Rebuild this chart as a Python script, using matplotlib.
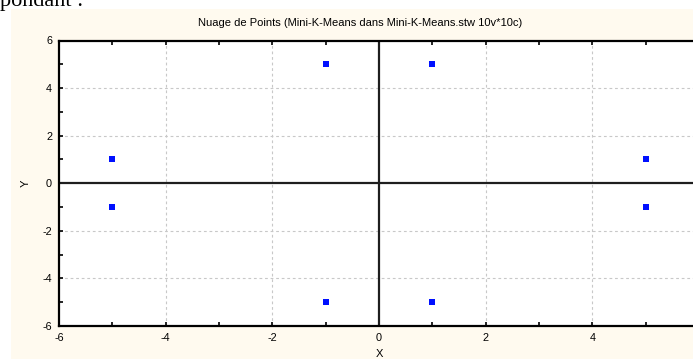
import matplotlib.pyplot as plt
from matplotlib.patches import Rectangle

# centres des classes (Mini-K-Means)
x = [-5, -5, -1, 1, 5, 5, -1, 1]
y = [1, -1, 5, 5, 1, -1, -5, -5]
xticks_maj = [-6, -4, -2, 0, 2, 4]
yticks_maj = [-6, -4, -2, 0, 2, 4, 6]
ticks_min = list(range(-6, 7))

plt.rcParams['font.family'] = ['Liberation Sans', 'DejaVu Sans']
plt.rcParams['axes.unicode_minus'] = False

W, H = 693, 359
fig = plt.figure(figsize=(W / 100, H / 100), dpi=100)
fig.patch.set_facecolor('white')
# fond crème de la fenêtre du graphique
fig.patches.append(Rectangle((11 / W, 0), 1, 1 - 9 / H, transform=fig.transFigure,
                             facecolor='#fffaef', edgecolor='none', zorder=-5))
# fin du texte du document au-dessus
fig.text(0, 1 - 6 / H, 'pondant :', family='Liberation Serif', fontsize=16,
         ha='left', va='baseline')

ax = fig.add_axes([59 / W, 33 / H, 640 / W, 285.5 / H])
ax.set_zorder(2)
ax.set_facecolor('white')
ax.set_xlim(-6, 6)
ax.set_ylim(-6, 6)

for v in [-4, -2, 2, 4]:
    ax.axvline(v, color='#c8c8c8', lw=0.8, ls=(0, (2.5, 2.5)), zorder=1)
    ax.axhline(v, color='#c8c8c8', lw=0.8, ls=(0, (2.5, 2.5)), zorder=1)
ax.axvline(0, color='#1e1e1e', lw=1.6, zorder=2)
ax.axhline(0, color='#1e1e1e', lw=1.6, zorder=2)

ax.scatter(x, y, marker='s', s=14, color='#0010ff', linewidths=0, zorder=3)

ax.set_xticks(xticks_maj)
ax.set_yticks(yticks_maj)
ax.set_xticks(ticks_min, minor=True)
ax.set_yticks(ticks_min, minor=True)
ax.tick_params(which='both', direction='in', length=3, width=1.2, color='black',
               top=True, right=False, labelsize=7.8)
ax.tick_params(axis='x', pad=5)
ax.tick_params(axis='y', pad=5)
for s in ['left', 'bottom', 'top']:
    ax.spines[s].set_linewidth(1.6)
ax.spines['right'].set_visible(False)

fig.text(360 / W, 1 - 23 / H, 'Nuage de Points (Mini-K-Means dans Mini-K-Means.stw 10v*10c)',
         fontsize=8, ha='center', va='center')
fig.text(26 / W, 1 - 183 / H, 'Y', fontsize=8, rotation=90, ha='center', va='center')
fig.text(379 / W, 1 - 354 / H, 'X', fontsize=8, ha='center', va='center')

fig.savefig('out.png', dpi=100)
